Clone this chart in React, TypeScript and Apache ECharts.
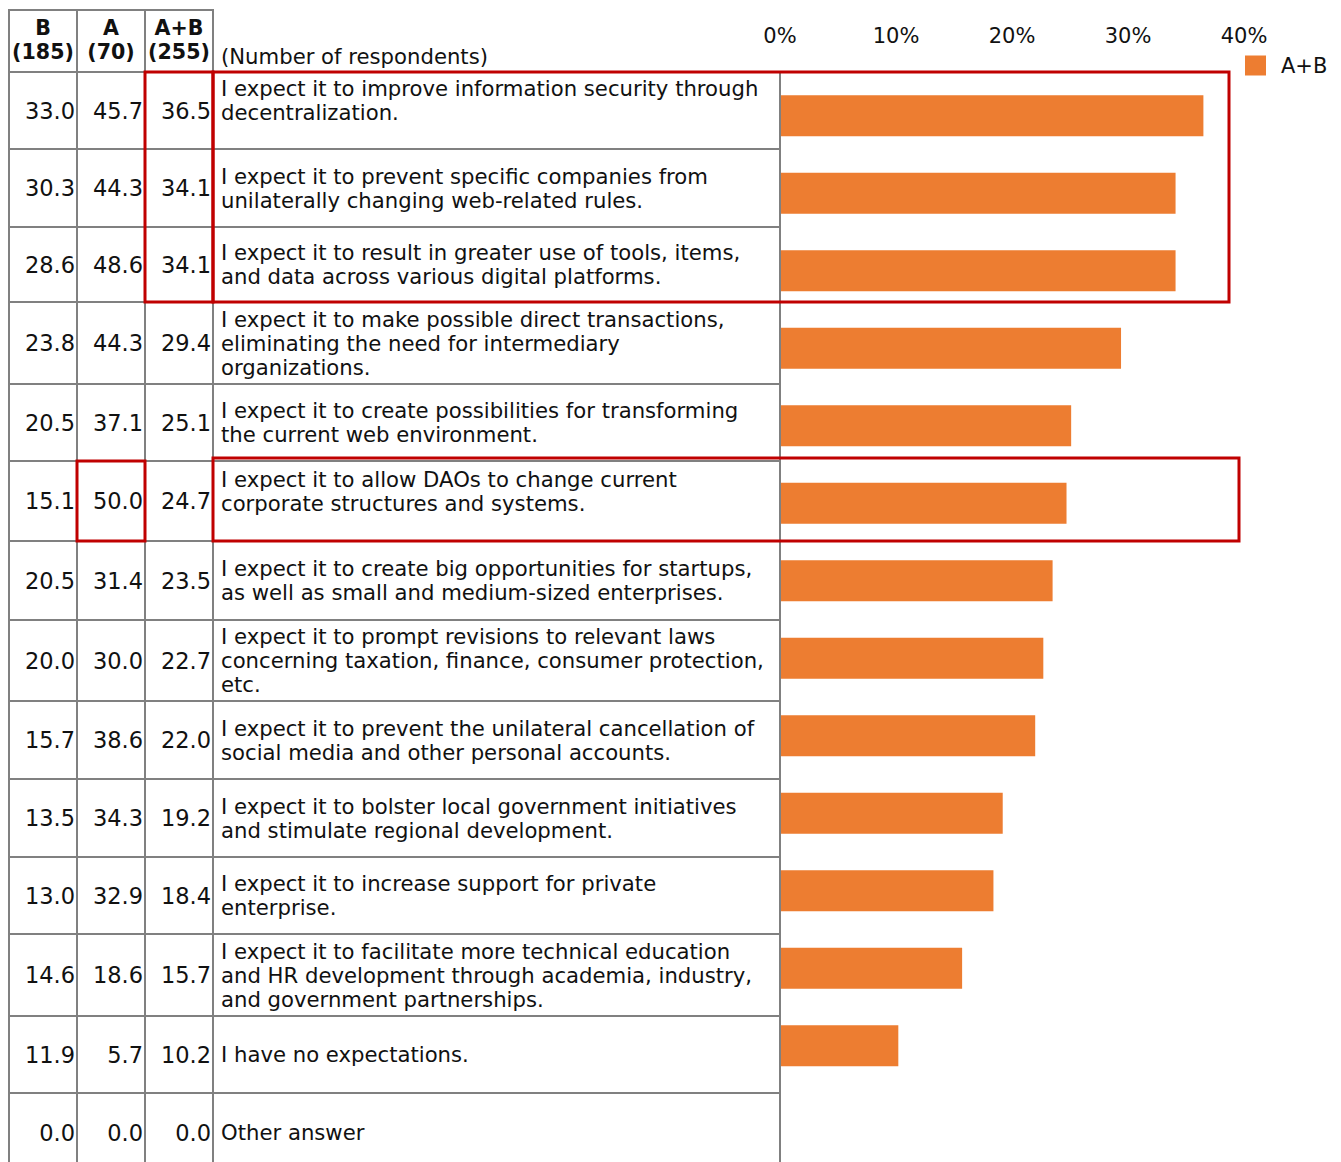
import React, { useEffect, useRef } from "react";
import * as echarts from "echarts";

// ---------- data ----------
const categories = [
  "I expect it to improve information security through\ndecentralization.",
  "I expect it to prevent specific companies from\nunilaterally changing web-related rules.",
  "I expect it to result in greater use of tools, items,\nand data across various digital platforms.",
  "I expect it to make possible direct transactions,\neliminating the need for intermediary\norganizations.",
  "I expect it to create possibilities for transforming\nthe current web environment.",
  "I expect it to allow DAOs to change current\ncorporate structures and systems.",
  "I expect it to create big opportunities for startups,\nas well as small and medium-sized enterprises.",
  "I expect it to prompt revisions to relevant laws\nconcerning taxation, finance, consumer protection,\netc.",
  "I expect it to prevent the unilateral cancellation of\nsocial media and other personal accounts.",
  "I expect it to bolster local government initiatives\nand stimulate regional development.",
  "I expect it to increase support for private\nenterprise.",
  "I expect it to facilitate more technical education\nand HR development through academia, industry,\nand government partnerships.",
  "I have no expectations.",
  "Other answer",
];
const valuesB = [33.0, 30.3, 28.6, 23.8, 20.5, 15.1, 20.5, 20.0, 15.7, 13.5, 13.0, 14.6, 11.9, 0.0];
const valuesA = [45.7, 44.3, 48.6, 44.3, 37.1, 50.0, 31.4, 30.0, 38.6, 34.3, 32.9, 18.6, 5.7, 0.0];
const valuesAB = [36.5, 34.1, 34.1, 29.4, 25.1, 24.7, 23.5, 22.7, 22.0, 19.2, 18.4, 15.7, 10.2, 0.0];
const headerLabels = ["B\n(185)", "A\n(70)", "A+B\n(255)"];
const respondentsNote = "(Number of respondents)";
const seriesName = "A+B";
const axisMin = 0;
const axisMax = 40;
const axisInterval = 10;

// ---------- layout ----------
const W = 1341;
const H = 1162;
const colEdges = [9, 77, 145, 213, 780];
const headerTop = 10;
const rowEdges = [72, 149, 227, 302, 384, 461, 541, 620, 701, 779, 857, 934, 1016, 1093, 1172];
const textShift = [-10, 0, 0, 0, 0, -10, 0, 0, 0, 0, 0, 0, 0, 0];
const FONT = "'DejaVu Sans', sans-serif";
const GRAY = "#808080";
const RED = "#C00000";
const ORANGE = "#ED7D31";
const INK = "#111111";
const TEXT_SIZE = 21.2;
const NUM_SIZE = 22.5;

function buildGraphics() {
  const els: any[] = [];
  const line = (x1: number, y1: number, x2: number, y2: number) =>
    els.push({
      type: "line",
      shape: { x1, y1, x2, y2 },
      style: { stroke: GRAY, lineWidth: 2 },
      z: 10,
    });
  // verticals
  for (let i = 0; i < 4; i++) line(colEdges[i], headerTop - 1, colEdges[i], H);
  line(colEdges[4], rowEdges[0], colEdges[4], H);
  // horizontals
  line(colEdges[0] - 1, headerTop, colEdges[3] + 1, headerTop);
  rowEdges.forEach((y) => line(colEdges[0] - 1, y, colEdges[4] + 1, y));

  // header text
  headerLabels.forEach((t, i) => {
    els.push({
      type: "text",
      x: (colEdges[i] + colEdges[i + 1]) / 2,
      y: 40,
      style: {
        text: t,
        fontSize: 20.6,
        fontWeight: "bold",
        fontFamily: FONT,
        fill: INK,
        align: "center",
        verticalAlign: "middle",
        lineHeight: 24,
      },
      z: 12,
    });
  });
  els.push({
    type: "text",
    x: colEdges[3] + 8,
    y: 56,
    style: {
      text: respondentsNote,
      fontSize: 21.2,
      fontFamily: FONT,
      fill: INK,
      align: "left",
      verticalAlign: "middle",
    },
    z: 12,
  });

  // rows
  categories.forEach((cat, r) => {
    const cy = (rowEdges[r] + rowEdges[r + 1]) / 2;
    [valuesB, valuesA, valuesAB].forEach((arr, c) => {
      els.push({
        type: "text",
        x: colEdges[c + 1] - 2,
        y: cy,
        style: {
          text: arr[r].toFixed(1),
          fontSize: NUM_SIZE,
          fontFamily: FONT,
          fill: INK,
          align: "right",
          verticalAlign: "middle",
        },
        z: 12,
      });
    });
    els.push({
      type: "text",
      x: colEdges[3] + 8,
      y: cy + textShift[r],
      style: {
        text: cat,
        fontSize: TEXT_SIZE,
        fontFamily: FONT,
        fill: INK,
        align: "left",
        verticalAlign: "middle",
        lineHeight: 24,
      },
      z: 12,
    });
  });

  // red highlight boxes
  const box = (x: number, y: number, w: number, h: number) =>
    els.push({
      type: "rect",
      shape: { x, y, width: w, height: h },
      style: { fill: "none", stroke: RED, lineWidth: 3 },
      z: 20,
    });
  box(colEdges[2], rowEdges[0], colEdges[3] - colEdges[2], rowEdges[3] - rowEdges[0]);
  box(colEdges[3], rowEdges[0], 1229 - colEdges[3], rowEdges[3] - rowEdges[0]);
  box(colEdges[1], rowEdges[5], colEdges[2] - colEdges[1], rowEdges[6] - rowEdges[5]);
  box(colEdges[3], rowEdges[5] - 3, 1239 - colEdges[3], rowEdges[6] - rowEdges[5] + 3);
  return els;
}

export default function App() {
  const ref = useRef<HTMLDivElement>(null);
  useEffect(() => {
    document.body.style.margin = "0";
    const chart = echarts.init(ref.current!, undefined, { renderer: "svg" });
    chart.setOption({
      animation: false,
      backgroundColor: "#ffffff",
      legend: {
        data: [seriesName],
        left: 1245,
        top: 55,
        padding: 0,
        itemWidth: 21,
        itemHeight: 20,
        icon: "rect",
        textStyle: {
          fontSize: 21,
          fontFamily: FONT,
          color: INK,
          padding: [0, 0, 0, 10],
        },
      },
      grid: { left: colEdges[4], top: 77, width: 464, height: 1100 },
      xAxis: {
        type: "value",
        position: "top",
        min: axisMin,
        max: axisMax,
        interval: axisInterval,
        axisLine: { show: false },
        axisTick: { show: false },
        splitLine: { show: false },
        axisLabel: {
          formatter: "{value}%",
          fontSize: 21,
          fontFamily: FONT,
          color: INK,
          margin: 31,
        },
      },
      yAxis: {
        type: "category",
        inverse: true,
        data: categories,
        axisLine: { show: false },
        axisTick: { show: false },
        axisLabel: { show: false },
      },
      series: [
        {
          name: seriesName,
          type: "bar",
          data: valuesAB,
          barWidth: 41,
          itemStyle: { color: ORANGE },
        },
      ],
      graphic: buildGraphics(),
    });
    return () => chart.dispose();
  }, []);
  return <div ref={ref} style={{ width: W, height: H }} />;
}
